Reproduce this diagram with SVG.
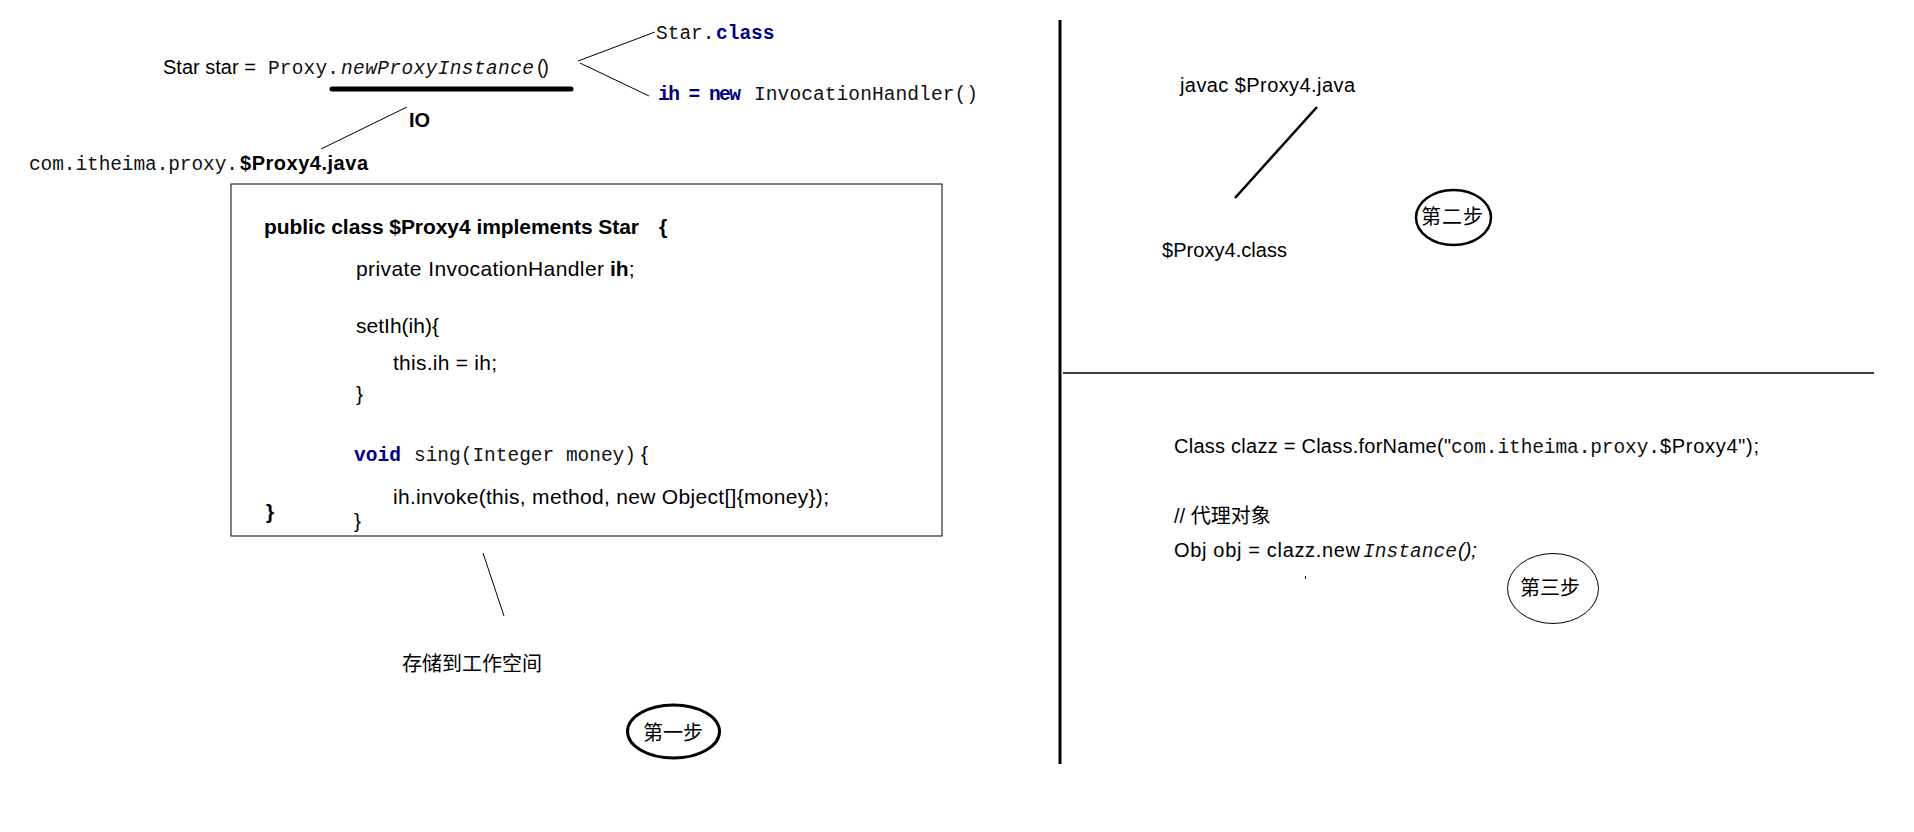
<svg xmlns="http://www.w3.org/2000/svg" width="1914" height="832" viewBox="0 0 1914 832">
<style>
.s{font-family:"Liberation Sans","Noto Sans CJK SC",sans-serif;font-size:20px;fill:#000}
.b{font-size:21px}
.m{font-family:"Liberation Mono",monospace;font-size:19.5px;fill:#111}
.kw{font-family:"Liberation Mono",monospace;font-size:19.5px;font-weight:bold;fill:#000080}
.bold{font-weight:bold}
.it{font-style:italic}
.cjk{font-family:"Noto Sans CJK SC","Liberation Sans",sans-serif;font-size:20px;fill:#000}
.ln{stroke:#000;fill:none}
.oval{fill:none;stroke:#000}
</style>
<rect width="1914" height="832" fill="#fff"/>
<g id="connectors">
  <line class="ln" x1="578" y1="61" x2="655" y2="32" stroke-width="1"/>
  <line class="ln" x1="580" y1="63" x2="649" y2="96" stroke-width="1"/>
  <line class="ln" x1="332" y1="89" x2="571" y2="89" stroke-width="5" stroke-linecap="round"/>
  <line class="ln" x1="407" y1="107" x2="321" y2="149" stroke-width="1"/>
  <line class="ln" x1="483" y1="553" x2="504" y2="616" stroke-width="1"/>
  <line class="ln" x1="1060" y1="20" x2="1060" y2="764" stroke-width="3"/>
  <line class="ln" x1="1063" y1="373" x2="1874" y2="373" stroke-width="1.5"/>
  <line class="ln" x1="1317" y1="107" x2="1235" y2="198" stroke-width="2.5"/>
  <line class="ln" x1="1305.5" y1="576" x2="1305.5" y2="579" stroke-width="1"/>
</g>
<g id="proxy-call">
  <text y="74"><tspan class="s" x="163">Star star =</tspan><tspan class="m" x="268" textLength="71">Proxy.</tspan><tspan class="m it" x="341" textLength="193">newProxyInstance</tspan><tspan class="m" x="535" textLength="16">()</tspan></text>
</g>
<g id="star-class">
  <text y="39"><tspan class="m" x="656">Star.</tspan><tspan class="kw" x="716">class</tspan></text>
</g>
<g id="invocation-handler">
  <text y="100"><tspan class="kw" x="658" textLength="83">ih = new</tspan><tspan class="m" x="754" textLength="224">InvocationHandler()</tspan></text>
</g>
<g id="io-label">
  <text class="s bold" x="409" y="127">IO</text>
</g>
<g id="java-file">
  <text y="170"><tspan class="m" x="29" textLength="209">com.itheima.proxy.</tspan><tspan class="s bold" x="240" textLength="128">$Proxy4.java</tspan></text>
</g>
<g id="proxy-class-box">
  <rect x="231" y="184" width="711" height="352" fill="none" stroke="#000" stroke-width="1"/>
  <text class="s b bold" x="264" y="234" textLength="375">public class $Proxy4 implements Star</text>
  <text class="s b bold" x="659" y="234">{</text>
  <text class="s b" y="276"><tspan x="356" textLength="248">private InvocationHandler</tspan><tspan class="bold" x="610">ih</tspan><tspan>;</tspan></text>
  <text class="s b" x="356" y="333" textLength="83">setIh(ih){</text>
  <text class="s b" x="393" y="370" textLength="104">this.ih = ih;</text>
  <text class="s b" x="356" y="401">}</text>
  <text y="461"><tspan class="kw" x="354" textLength="47">void</tspan><tspan class="m" x="414" textLength="222">sing(Integer money)</tspan><tspan class="s b" x="641">{</tspan></text>
  <text class="s b" x="393" y="504" textLength="436">ih.invoke(this, method, new Object[]{money});</text>
  <text class="s b bold" x="266" y="519">}</text>
  <text class="s b" x="354" y="528">}</text>
</g>
<g id="store-label">
  <text class="cjk" x="402" y="671">存储到工作空间</text>
</g>
<g id="step1">
  <ellipse class="oval" cx="673.5" cy="731.5" rx="46" ry="26.5" stroke-width="3"/>
  <text class="cjk" x="643" y="740">第一步</text>
</g>
<g id="javac">
  <text class="s" x="1180" y="92" textLength="175">javac $Proxy4.java</text>
</g>
<g id="class-file">
  <text class="s" x="1162" y="257" textLength="125">$Proxy4.class</text>
</g>
<g id="step2">
  <ellipse class="oval" cx="1453.5" cy="217.5" rx="37.5" ry="27.5" stroke-width="2.5"/>
  <text class="cjk" x="1421" y="224" textLength="62">第二步</text>
</g>
<g id="forname">
  <text y="453"><tspan class="s" x="1174" textLength="277">Class clazz = Class.forName("</tspan><tspan class="m" x="1451" textLength="209">com.itheima.proxy.</tspan><tspan class="s" x="1660" textLength="99">$Proxy4");</tspan></text>
</g>
<g id="comment">
  <text class="s" x="1174" y="523">// 代理对象</text>
</g>
<g id="new-instance">
  <text y="557"><tspan class="s" x="1174" textLength="186">Obj obj = clazz.new</tspan><tspan class="m it" x="1363" textLength="94">Instance</tspan><tspan class="s it" x="1458">();</tspan></text>
</g>
<g id="step3">
  <ellipse class="oval" cx="1553" cy="588.5" rx="45.5" ry="35" stroke-width="1"/>
  <text class="cjk" x="1520" y="595">第三步</text>
</g>
</svg>
